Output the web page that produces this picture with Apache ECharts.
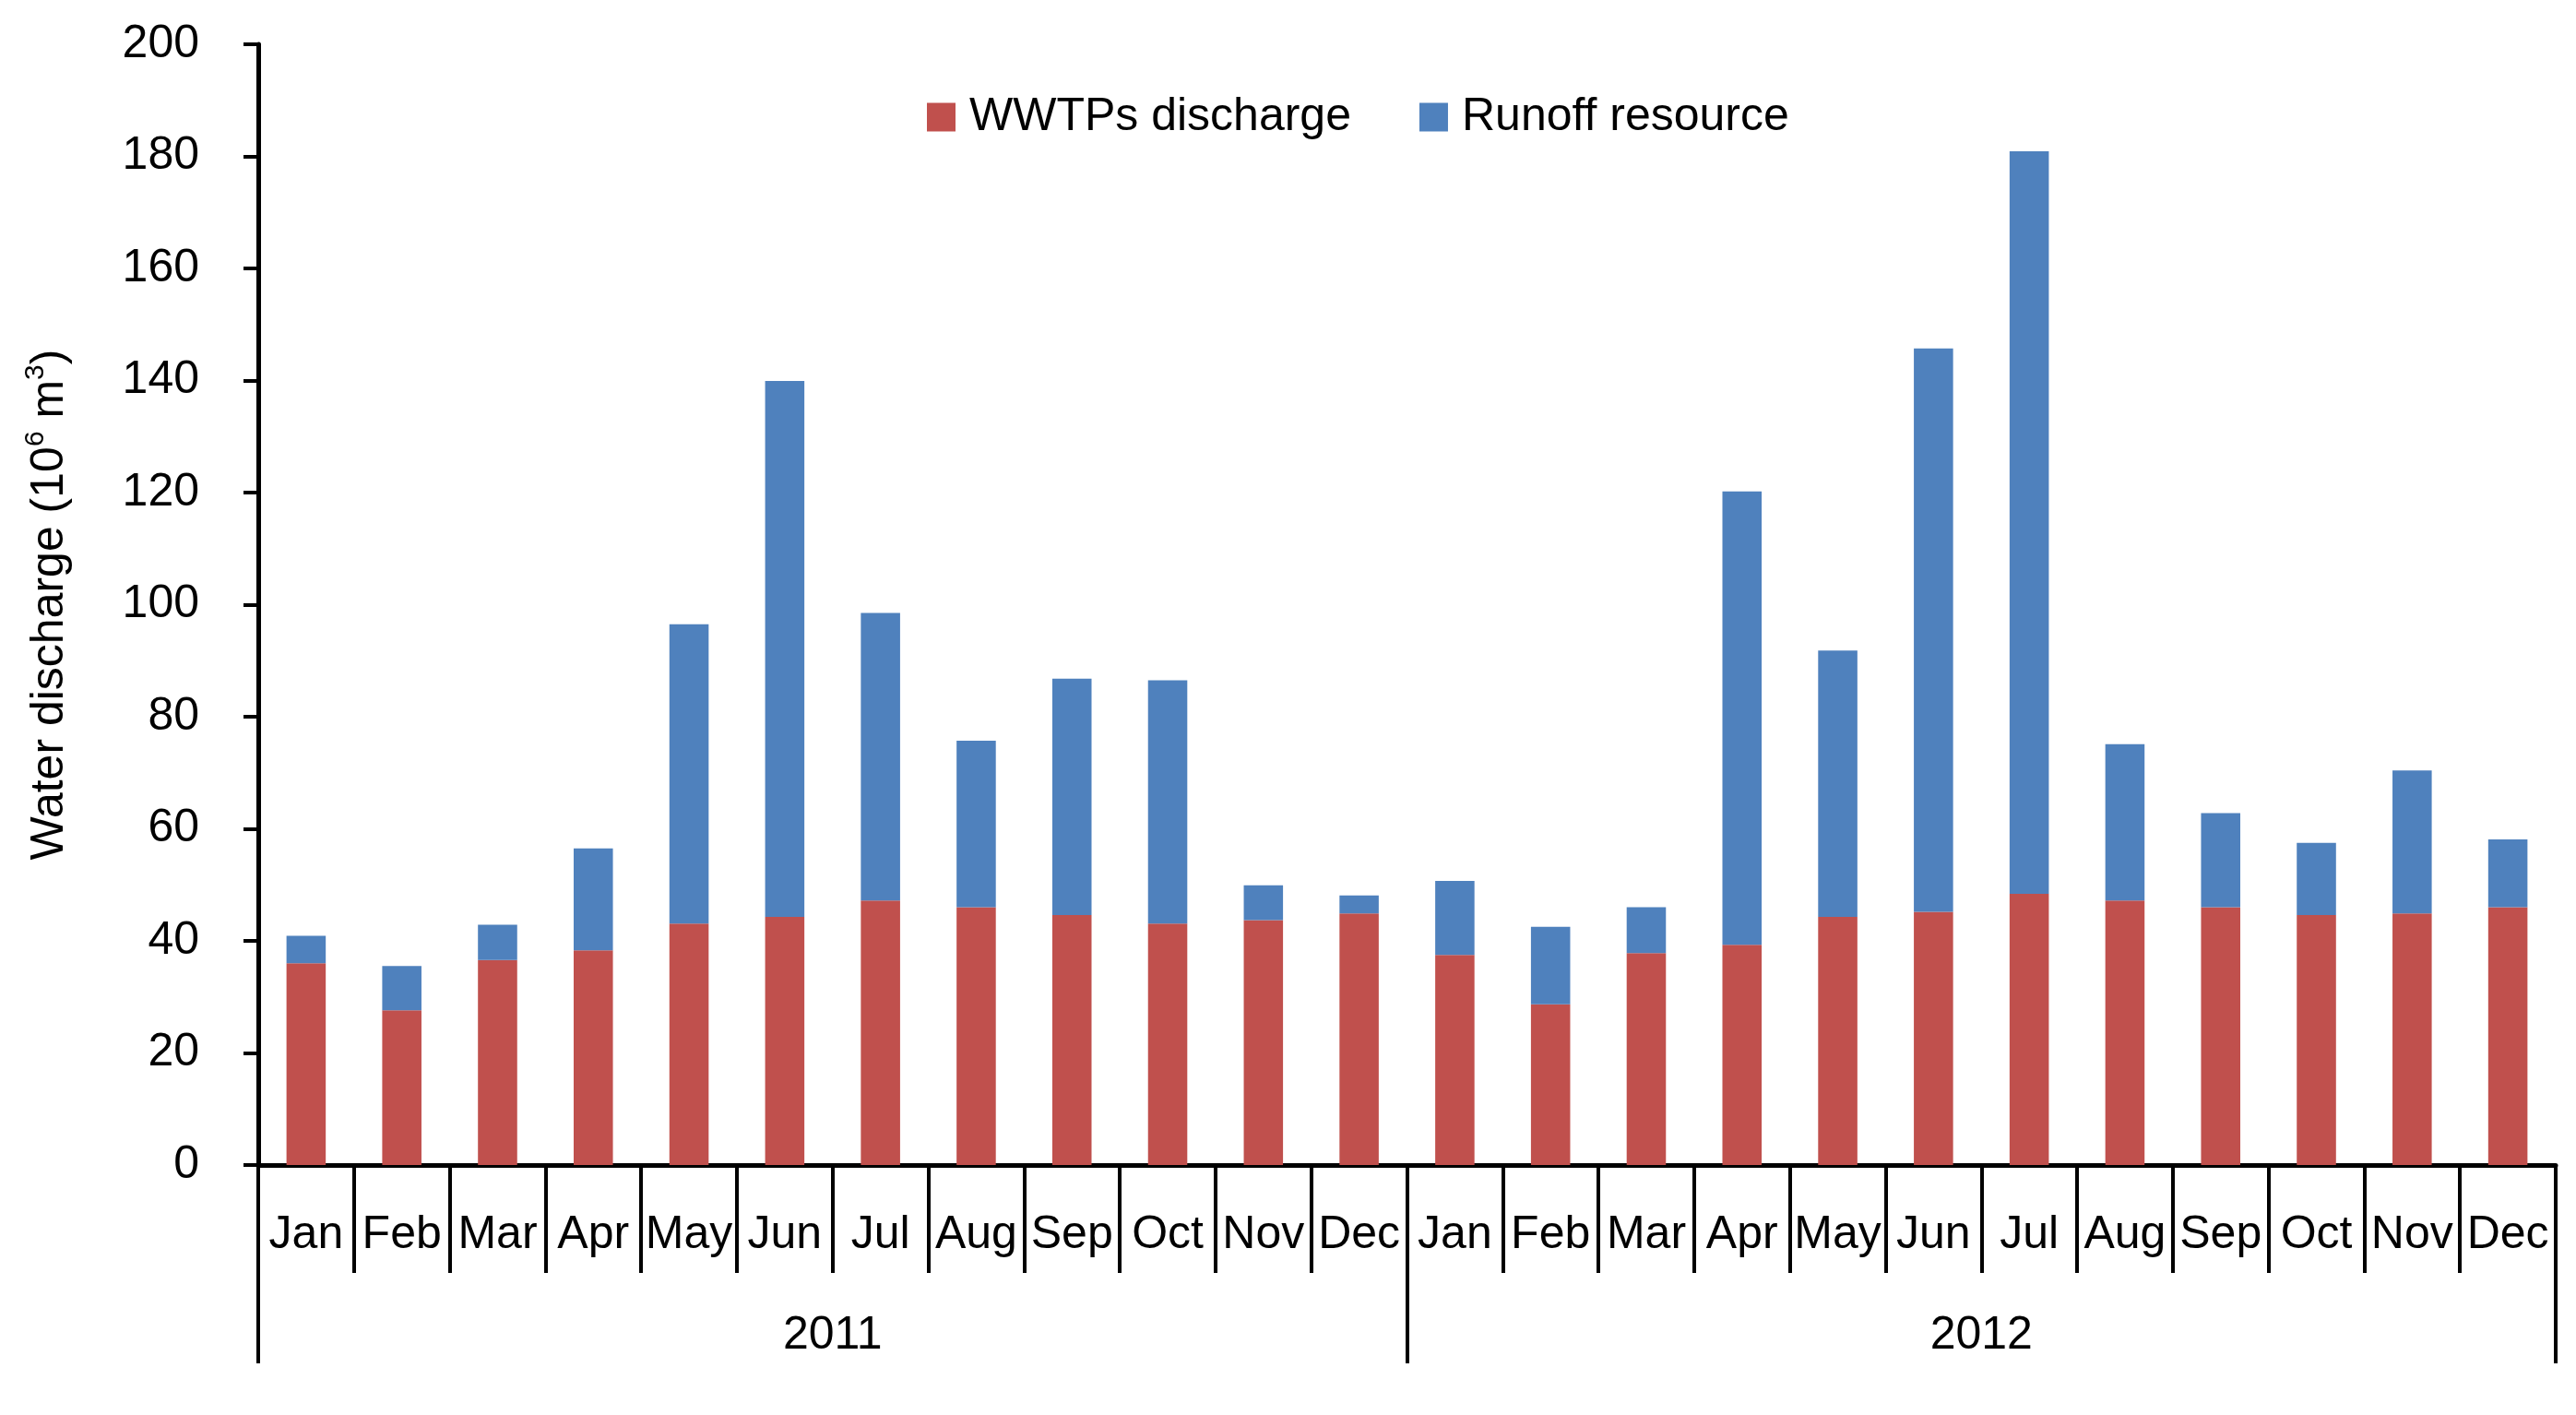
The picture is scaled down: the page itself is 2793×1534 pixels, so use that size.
<!DOCTYPE html>
<html>
<head>
<meta charset="utf-8">
<script src="https://cdn.jsdelivr.net/npm/echarts@6/dist/echarts.min.js"></script>
<style>
html,body{margin:0;padding:0;background:#fff;}
#chart{width:2793px;height:1534px;}
</style>
</head>
<body>
<div id="chart"></div>
<script>
const months = ['Jan','Feb','Mar','Apr','May','Jun','Jul','Aug','Sep','Oct','Nov','Dec',
                'Jan','Feb','Mar','Apr','May','Jun','Jul','Aug','Sep','Oct','Nov','Dec'];
const years = ['2011','2012'];
const wwtpDischarge = [36.0, 27.6, 36.6, 38.3, 43.1, 44.3, 47.2, 46.0, 44.6, 43.1, 43.7, 44.9,
                       37.5, 28.7, 37.8, 39.3, 44.3, 45.2, 48.4, 47.2, 46.0, 44.6, 44.9, 46.0];
const runoffResource = [4.9, 7.9, 6.3, 18.2, 53.4, 95.6, 51.3, 29.7, 42.2, 43.4, 6.2, 3.2,
                        13.2, 13.8, 8.2, 80.9, 47.5, 100.5, 132.5, 27.9, 16.8, 12.9, 25.5, 12.1];
const yTicks = {min: 0, max: 200, interval: 20};

const FONT = 'Liberation Sans';
const chart = echarts.init(document.getElementById('chart'));
chart.setOption({
  backgroundColor: '#ffffff',
  animation: false,
  textStyle: {fontFamily: FONT, color: '#000'},
  legend: {
    left: 1000, top: 97,
    itemWidth: 31, itemHeight: 31, itemGap: 74,
    icon: 'rect',
    textStyle: {fontFamily: FONT, fontSize: 50, color: '#000', padding: [0, 0, 0, 10]},
    data: ['WWTPs discharge', 'Runoff resource']
  },
  grid: {left: 280, right: 22, top: 48, bottom: 271, containLabel: false, outerBoundsMode: 'none'},
  xAxis: [
    {
      type: 'category', data: months, position: 'bottom', boundaryGap: true,
      axisLine: {show: true, onZero: false, lineStyle: {color: '#000', width: 5}},
      axisTick: {show: true, length: 117, interval: 0, lineStyle: {color: '#000', width: 4}},
      axisLabel: {interval: 0, margin: 51, fontSize: 50, color: '#000', fontFamily: FONT, hideOverlap: false},
      splitLine: {show: false}
    },
    {
      type: 'category', data: years, position: 'bottom', boundaryGap: true, gridIndex: 0,
      axisLine: {show: false},
      axisTick: {show: true, length: 215, interval: 0, lineStyle: {color: '#000', width: 4}},
      axisLabel: {interval: 0, margin: 160, fontSize: 50, color: '#000', fontFamily: FONT},
      splitLine: {show: false}
    }
  ],
  yAxis: {
    type: 'value', min: yTicks.min, max: yTicks.max, interval: yTicks.interval,
    name: 'Water discharge (10{sup|6} m{sup|3})',
    nameLocation: 'middle', nameGap: 196, nameRotate: 90,
    nameTextStyle: {fontSize: 50, color: '#000', fontFamily: FONT,
      rich: {sup: {fontSize: 30, verticalAlign: 'top', lineHeight: 60, fontFamily: FONT, color: '#000'}}},
    axisLine: {show: true, lineStyle: {color: '#000', width: 5}},
    axisTick: {show: true, length: 16, inside: false, lineStyle: {color: '#000', width: 4}},
    axisLabel: {margin: 64, fontSize: 50, color: '#000', fontFamily: FONT},
    splitLine: {show: false}
  },
  series: [
    {name: 'WWTPs discharge', type: 'bar', stack: 'total', xAxisIndex: 0, barWidth: '41%',
     itemStyle: {color: '#C0504D'}, data: wwtpDischarge},
    {name: 'Runoff resource', type: 'bar', stack: 'total', xAxisIndex: 0, barWidth: '41%',
     itemStyle: {color: '#4F81BD'}, data: runoffResource}
  ]
});
</script>
</body>
</html>
